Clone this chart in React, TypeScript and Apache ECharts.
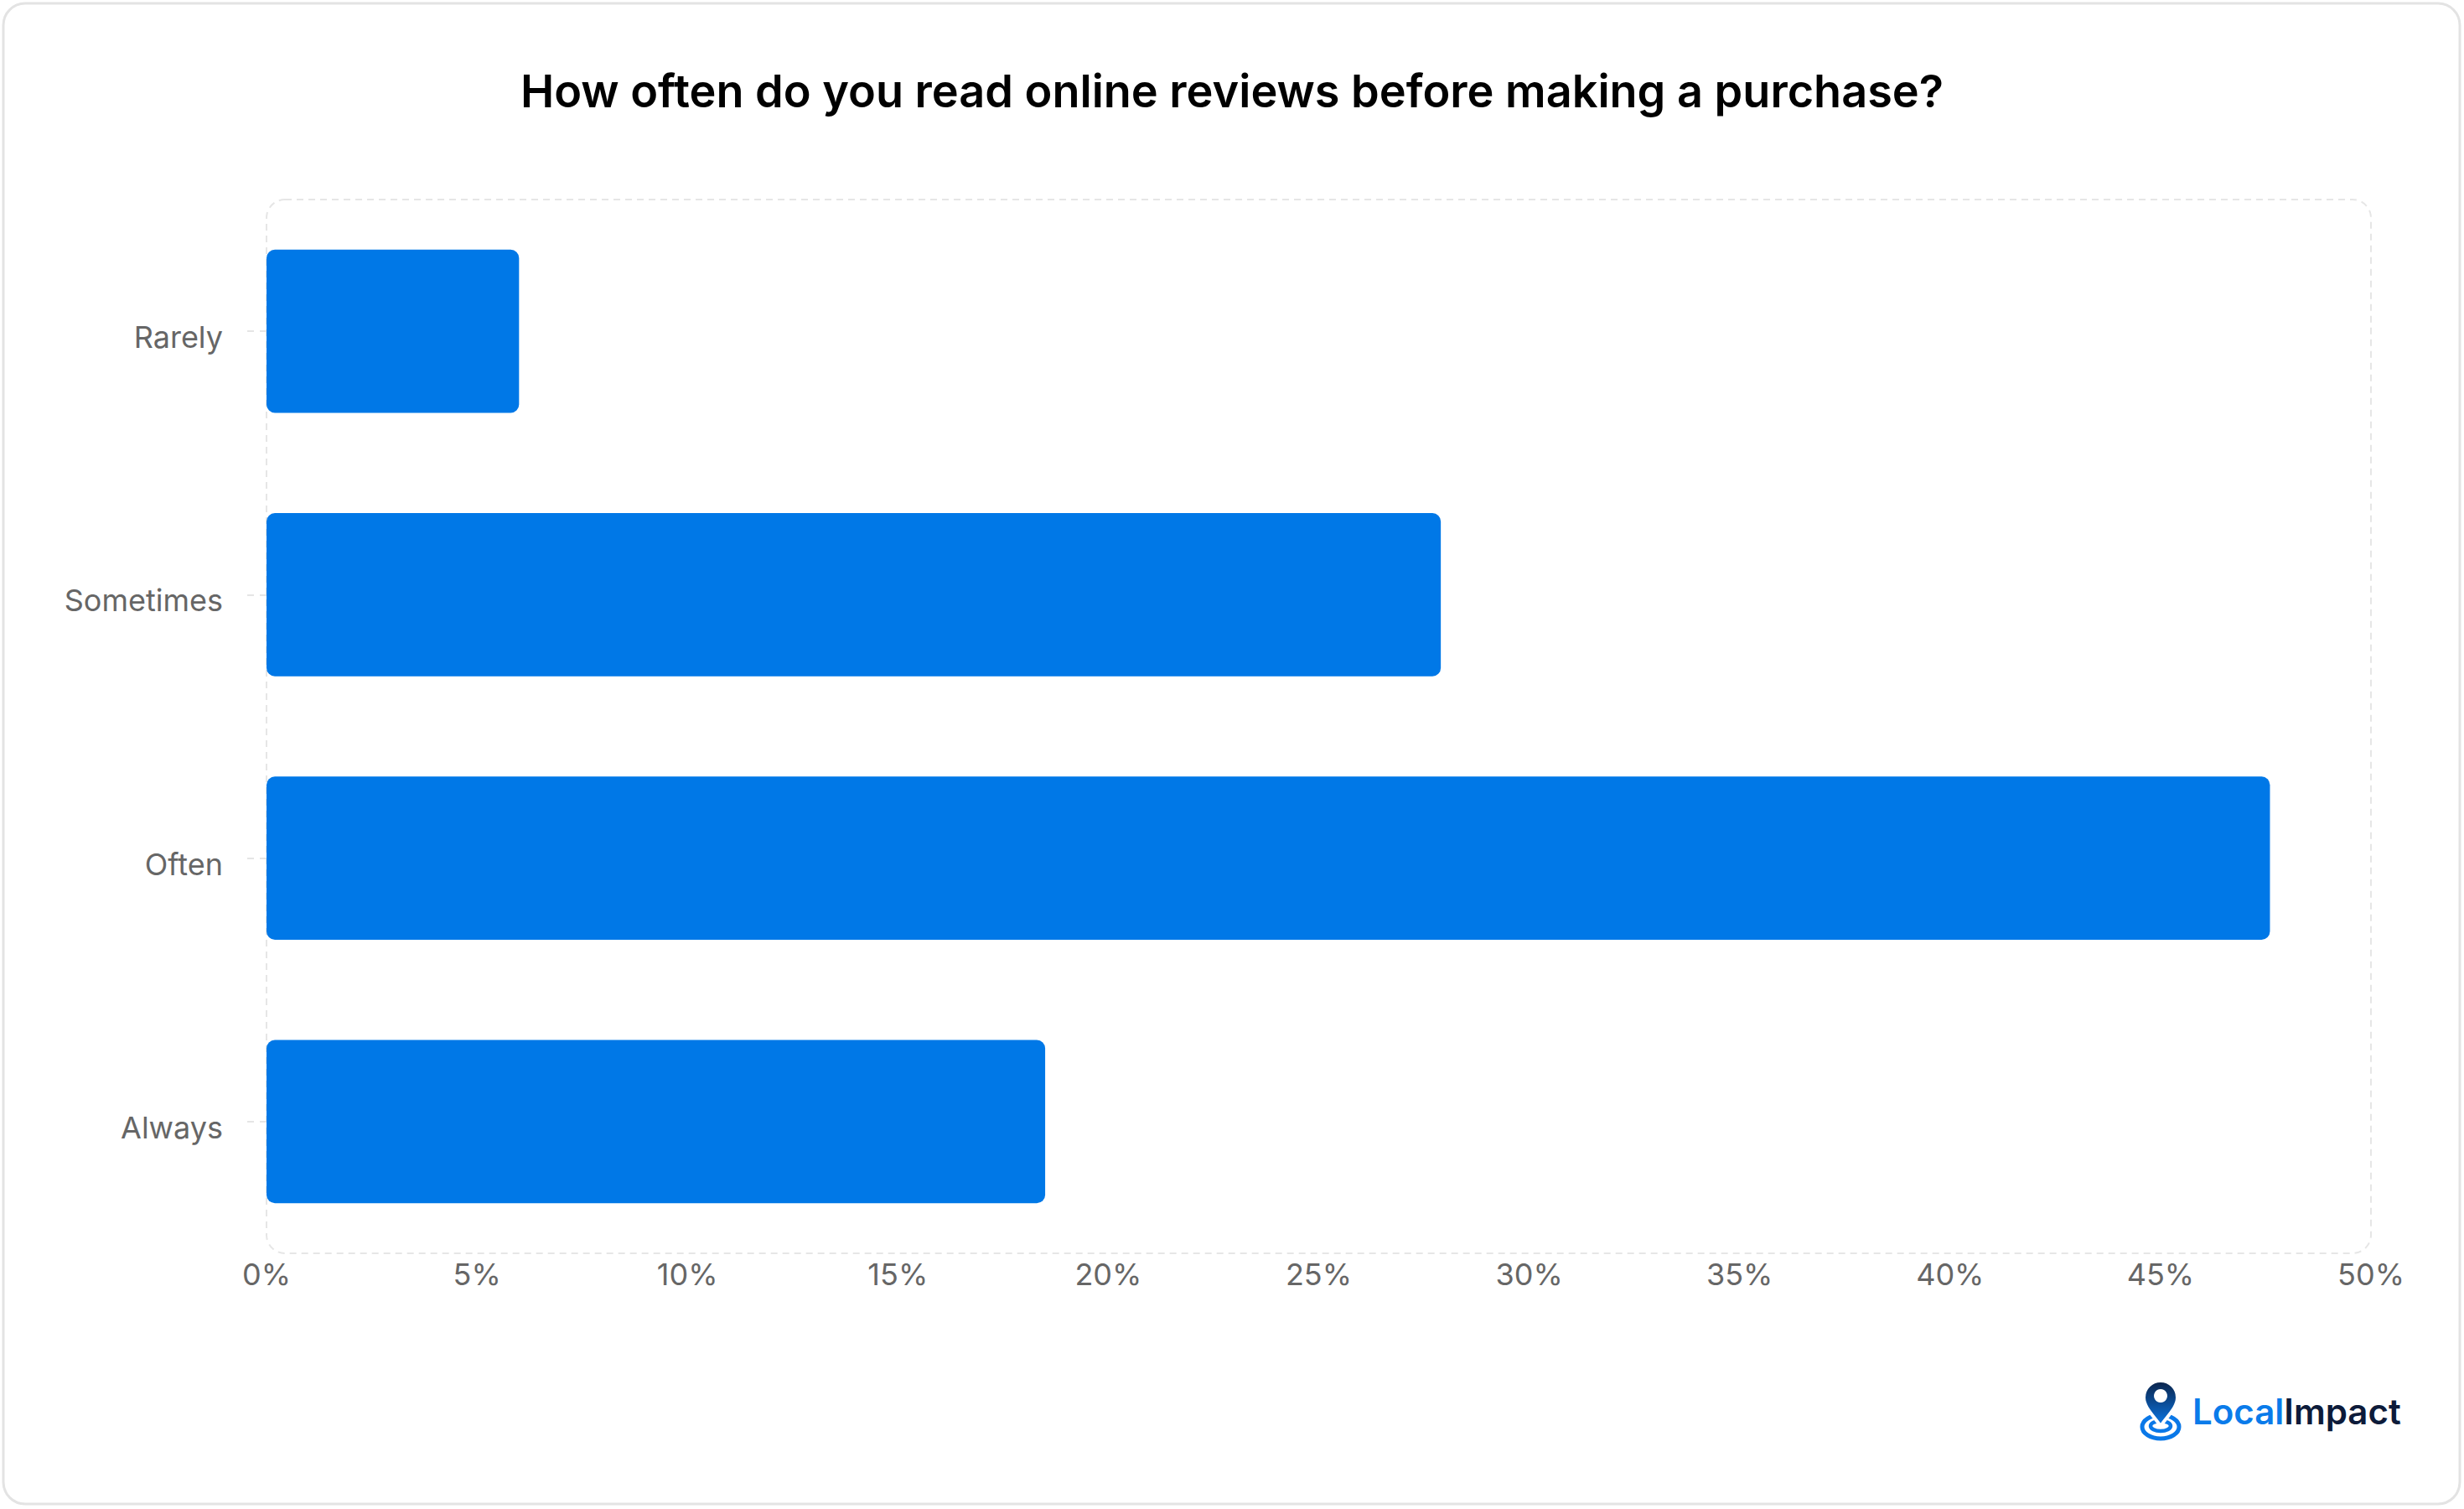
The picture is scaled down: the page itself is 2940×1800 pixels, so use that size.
import React, { useEffect, useRef } from "react";
import * as echarts from "echarts";

const categories = ["Rarely", "Sometimes", "Often", "Always"];
const values = [6, 27.9, 47.6, 18.5];
const xTicks = { min: 0, max: 50, interval: 5 };
const titleText = "How often do you read online reviews before making a purchase?";
const brandA = "Local";
const brandB = "Impact";

const W = 2940;
const H = 1800;
const FONT = "Inter, 'Noto Sans', sans-serif";
const G = { left: 318, top: 238, right: 2829, bottom: 1495 };

echarts.graphic.registerShape(
  "pin",
  echarts.graphic.extendPath(
    "M -20 0 A 20 20 0 1 1 20 0 C 20 12 8 22 0 34 C -8 22 -20 12 -20 0 Z",
    {}
  ) as any
);

export default function App() {
  const ref = useRef<HTMLDivElement>(null);
  useEffect(() => {
    document.body.style.margin = "0";
    const chart = echarts.init(ref.current!, null, { renderer: "svg" });
    const cx = 2578;
    const option: any = {
      animation: false,
      backgroundColor: "#ffffff",
      title: {
        text: titleText,
        left: "center",
        top: 76,
        textStyle: { fontFamily: FONT, fontSize: 54, fontWeight: 600, color: "#000000" },
      },
      grid: {
        left: G.left,
        top: G.top,
        right: W - G.right,
        bottom: H - G.bottom,
        containLabel: false,
      },
      xAxis: {
        type: "value",
        min: xTicks.min,
        max: xTicks.max,
        interval: xTicks.interval,
        axisLine: { show: false },
        axisTick: { show: false },
        splitLine: { show: false },
        axisLabel: {
          formatter: "{value}%",
          color: "#666666",
          fontFamily: FONT,
          fontSize: 36,
          margin: 7,
        },
      },
      yAxis: {
        type: "category",
        inverse: true,
        data: categories,
        offset: 20,
        axisLine: { show: false },
        axisTick: {
          show: true,
          alignWithLabel: true,
          length: 23,
          lineStyle: { color: "#e5e5e5", width: 2, type: [8, 7] },
        },
        axisLabel: {
          color: "#666666",
          fontFamily: FONT,
          fontSize: 36,
          margin: 32,
          verticalAlign: "top",
          lineHeight: 14,
        },
      },
      series: [
        {
          type: "bar",
          data: values,
          barCategoryGap: "38%",
          z: 2,
          itemStyle: { color: "#0078E7", borderRadius: 10 },
        },
      ],
      graphic: [
        {
          type: "rect",
          z: -1,
          silent: true,
          shape: { x: 4, y: 4, width: 2931, height: 1790, r: 26 },
          style: { fill: "none", stroke: "#e3e3e3", lineWidth: 3 },
        },
        {
          type: "rect",
          z: 0,
          silent: true,
          shape: { x: G.left, y: G.top, width: G.right - G.left, height: G.bottom - G.top, r: 22 },
          style: { fill: "none", stroke: "#e6e6e6", lineWidth: 2, lineDash: [8, 6] },
        },
        {
          type: "ellipse",
          z: 10,
          shape: { cx: cx, cy: 1702, rx: 22, ry: 14 },
          style: { fill: "none", stroke: "#0a78e8", lineWidth: 5 },
        },
        {
          type: "ellipse",
          z: 10,
          shape: { cx: cx, cy: 1701, rx: 12, ry: 6 },
          style: { fill: "none", stroke: "#0a78e8", lineWidth: 4.5 },
        },
        {
          type: "pin",
          z: 11,
          x: cx,
          y: 1667,
          style: {
            fill: new echarts.graphic.LinearGradient(0, 0, 0, 1, [
              { offset: 0, color: "#0b2247" },
              { offset: 1, color: "#0a78e8" },
            ]),
            stroke: "#ffffff",
            lineWidth: 4,
          },
        },
        {
          type: "circle",
          z: 12,
          shape: { cx: cx, cy: 1665, r: 8 },
          style: { fill: "#ffffff" },
        },
        {
          type: "text",
          z: 12,
          x: 2616,
          y: 1683,
          style: {
            text: "{a|" + brandA + "}{b|" + brandB + "}",
            verticalAlign: "middle",
            align: "left",
            rich: {
              a: { fontFamily: FONT, fontSize: 42, fontWeight: 600, fill: "#0a7bea", color: "#0a7bea" } as any,
              b: { fontFamily: FONT, fontSize: 42, fontWeight: 600, fill: "#0d1b3a", color: "#0d1b3a" } as any,
            },
          },
        },
      ],
    };
    chart.setOption(option);
    return () => chart.dispose();
  }, []);
  return <div ref={ref} style={{ width: W, height: H, position: "absolute", left: 0, top: 0 }} />;
}
